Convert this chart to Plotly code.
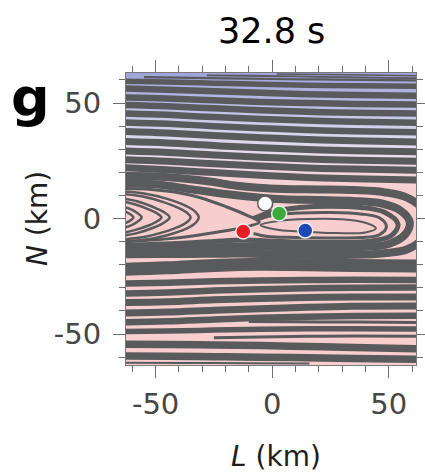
import plotly.graph_objects as go

# ---------------- text ----------------
title_text = "32.8 s"
panel_label = "g"
x_title = "<i>L</i> (km)"
y_title = "<i>N</i> (km)"
x_ticks = [-50, 0, 50]
x_tick_text = ["-50", "0", "50"]
y_ticks = [-50, 0, 50]
y_tick_text = ["-50", "0", "50"]

# ---------------- background field (by N, km) ----------------
bg_N = [-64, 10, 18, 28, 38, 50, 64]
bg_colors = ["rgb(248,206,206)", "rgb(248,205,205)", "rgb(246,212,218)",
             "rgb(232,222,236)", "rgb(214,212,238)", "rgb(186,188,230)",
             "rgb(158,162,216)"]

# ---------------- open streamline bands: N (km) at L stations ----------------
L_st = [-66, -45, -25, -5, 15, 35, 66]
upper_bands_N = [
    [59.5, 59.1, 58.6, 58.1, 57.7, 57.5, 57.2],
    [56.4, 55.8, 55.1, 54.4, 53.8, 53.5, 53.1],
    [52.5, 52.0, 51.2, 50.5, 50.0, 49.6, 49.3],
    [49.2, 48.6, 47.7, 46.9, 46.2, 45.8, 45.4],
    [45.6, 44.9, 43.9, 43.1, 42.4, 41.9, 41.4],
    [41.7, 41.0, 40.0, 39.1, 38.3, 37.8, 37.3],
    [37.8, 37.0, 35.9, 35.0, 34.2, 33.7, 33.1],
    [33.4, 32.7, 31.6, 30.6, 29.9, 29.3, 28.8],
    [29.3, 28.6, 27.5, 26.5, 25.8, 25.2, 24.7],
    [25.6, 24.8, 23.7, 22.7, 21.9, 21.4, 20.8],
    [22.1, 21.1, 19.9, 18.7, 17.8, 17.2, 16.6],
]
lower_bands_N = [
    [-22.0, -21.3, -20.3, -19.8, -20.0, -20.3, -20.6],
    [-28.2, -27.8, -27.2, -26.8, -26.6, -26.5, -26.6],
    [-32.5, -32.0, -31.2, -30.6, -30.2, -30.0, -29.8],
    [-36.4, -36.0, -35.2, -34.6, -34.2, -34.0, -33.9],
    [-40.9, -40.5, -39.7, -39.0, -38.4, -38.0, -37.8],
    [-44.9, -44.5, -43.7, -43.0, -42.5, -42.2, -42.0],
    [-48.9, -48.7, -48.3, -47.9, -47.7, -47.7, -47.8],
    [-54.4, -54.5, -54.7, -55.0, -55.4, -55.8, -56.5],
    [-59.5, -59.6, -59.8, -60.0, -60.3, -60.6, -61.0],
]

# partial lines (start or end inside the frame), (L, N)
edge_lines_L = [[-55, -40, -20, 0, 20, 40, 66],
                [-28, -10, 10, 30, 50, 66],
                [2, 20, 40, 66],
                [-66, -40, -10, 16],
                [-25, -5, 15, 35, 66],
                [-10, 10, 30, 50, 66]]
edge_lines_N = [[61.2, 61.0, 60.7, 60.4, 60.2, 60.0, 59.8],
                [62.0, 61.8, 61.5, 61.2, 60.9, 60.7],
                [62.6, 62.4, 62.1, 61.8],
                [-62.4, -62.5, -62.6, -62.7],
                [-51.6, -51.3, -51.0, -50.9, -51.0],
                [-44.6, -44.7, -44.8, -44.9, -45.0]]

# eye loops (turn back at the right)
loops_L = [
    [-66, -50, -38, -26, -16, -6, 5, 20, 35, 48, 58, 65, 66, 65, 58, 48, 35, 20, 5, -8, -20, -35, -50, -66],
    [-66, -50, -35, -20, -5, 5, 20, 35, 47, 55, 59, 57, 50, 38, 20, 5, -8, -20, -35, -50, -66],
    [-8, 0, 12, 25, 38, 48, 54, 51, 42, 25, 10, -2, -12, -25, -40, -55, -66],
    [-7, 0, 12, 25, 38, 46, 49, 46, 38, 25, 10, -2, -8],
    [-5, 3, 15, 30, 40, 44.5, 40, 28, 15, 3, -5],
]
loops_N = [
    [18.6, 18.2, 17.3, 15.9, 14.3, 13.3, 12.8, 12.6, 12.3, 11.4, 9.0, 3.5, -2.0, -8.0, -13.3, -15.0, -15.7, -15.8, -15.6, -15.2, -15.2, -15.3, -15.4, -15.5],
    [15.3, 14.8, 12.7, 10.6, 9.0, 8.3, 8.0, 7.6, 6.5, 3.5, -1.5, -7.0, -11.0, -12.4, -12.6, -12.4, -12.0, -12.3, -12.8, -13.1, -13.3],
    [0.0, 3.0, 4.8, 5.3, 4.8, 2.8, -2.5, -7.5, -9.8, -10.4, -10.2, -9.7, -9.3, -9.9, -10.8, -11.3, -11.5],
    [-0.8, 1.3, 2.4, 2.6, 2.0, 0.3, -3.5, -7.0, -8.2, -8.4, -8.2, -7.8, -6.5],
    [-2.8, -1.0, -0.2, -0.3, -1.8, -4.2, -6.0, -6.3, -5.7, -5.0, -2.8],
]

# hairpins turning back at the left (incl. the saddle line)
pins_L = [
    [-66, -52, -40, -30, -20, -11, -5.5, -10, -20, -32, -45, -66],
    [-66, -55, -45, -37, -33, -31.5, -33, -37, -45, -55, -66],
    [-66, -55, -47, -40, -36.5, -35, -36.5, -40, -47, -55, -66],
    [-66, -58, -51, -46.5, -44, -46.5, -51, -58, -66],
    [-66, -59, -53, -49.5, -47.5, -49.5, -53, -59, -66],
    [-66, -61, -58, -56, -58, -61, -66],
    [-66, -62.5, -60.5, -59.5, -60.5, -62.5, -66],
]
pins_N = [
    [13.0, 12.6, 11.2, 8.8, 5.2, 1.5, -1.5, -3.3, -5.3, -7.2, -8.8, -10.3],
    [12.0, 10.8, 8.5, 5.5, 3.0, 0.5, -2.0, -4.5, -7.2, -9.2, -10.0],
    [10.8, 9.4, 7.2, 4.5, 2.5, 0.5, -1.5, -3.5, -6.0, -8.0, -9.2],
    [9.0, 7.5, 5.0, 2.8, 0.5, -1.8, -4.0, -6.3, -7.8],
    [7.8, 6.2, 4.0, 2.3, 0.5, -1.3, -3.0, -5.0, -6.6],
    [5.5, 4.2, 2.5, 0.5, -1.5, -3.2, -4.5],
    [4.0, 2.8, 1.6, 0.5, -0.6, -1.8, -3.0],
]

# particles
dot_L = [-3, 3, -12.4, 14.2]
dot_N = [6.5, 2.2, -5.6, -5.2]
dot_colors = ["rgb(255,255,255)", "rgb(58,172,62)", "rgb(232,28,36)", "rgb(30,72,178)"]
dot_edge = ["rgb(90,90,90)", "rgb(240,240,240)", "rgb(240,240,240)", "rgb(240,240,240)"]

# ---------------- styles ----------------
BAND = "rgb(88,90,92)"
upper_w = [5.5, 6.5, 6.5, 6.5, 6.5, 6.5, 7.0, 7.0, 7.0, 7.0, 7.0]
lower_w = [13, 6.5, 6.5, 7, 7, 6.5, 5.5, 7.5, 7.5]
edge_w = [2.2, 1.8, 1.5, 2.0, 3.0, 3.0]
loop_w = [8.0, 8.0, 5.0, 3.0, 2.0]
pin_w = [3.0, 2.5, 2.5, 2.5, 2.5, 2.5, 2.5]

fig = go.Figure()

lo, hi = bg_N[0], bg_N[-1]
cscale = [[(n - lo) / (hi - lo), c] for n, c in zip(bg_N, bg_colors)]
fig.add_trace(go.Heatmap(x=[-70, 70], y=bg_N, z=[[n, n] for n in bg_N],
                         colorscale=cscale, zsmooth="best", showscale=False,
                         hoverinfo="skip"))


def add_line(xs, ys, w):
    fig.add_trace(go.Scatter(x=xs, y=ys, mode="lines",
                             line=dict(color=BAND, width=w, shape="spline", smoothing=1.0),
                             hoverinfo="skip", showlegend=False))


for ys, w in zip(upper_bands_N, upper_w):
    add_line(L_st, ys, w)
for ys, w in zip(lower_bands_N, lower_w):
    add_line(L_st, ys, w)
for xs, ys, w in zip(edge_lines_L, edge_lines_N, edge_w):
    add_line(xs, ys, w)
for xs, ys, w in zip(pins_L, pins_N, pin_w):
    add_line(xs, ys, w)
for xs, ys, w in zip(loops_L, loops_N, loop_w):
    add_line(xs, ys, w)

fig.add_trace(go.Scatter(x=dot_L, y=dot_N, mode="markers",
                         marker=dict(size=15, color=dot_colors,
                                     line=dict(color=dot_edge, width=1.5)),
                         hoverinfo="skip", showlegend=False))

FONT = "DejaVu Sans"
axis_common = dict(
    showline=True, linecolor="rgb(120,120,120)", linewidth=1, mirror="ticks",
    ticks="outside", ticklen=12, tickwidth=1.3, tickcolor="rgb(110,110,110)",
    showgrid=False, zeroline=False, automargin=False,
    tickfont=dict(family=FONT, size=29, color="rgb(70,70,70)"),
    minor=dict(ticks="outside", dtick=10, tick0=0, ticklen=6, tickwidth=1.2,
               tickcolor="rgb(110,110,110)", showgrid=False),
)

fig.update_layout(
    width=425, height=476, autosize=False,
    margin=dict(l=126, r=9, t=73, b=111, pad=0),
    paper_bgcolor="white", plot_bgcolor="white",
    showlegend=False,
    xaxis=dict(range=[-62.7, 61.7], tickmode="array", tickvals=x_ticks,
               ticktext=x_tick_text, ticklabelstandoff=1, **axis_common),
    yaxis=dict(range=[-63.4, 63.0], tickmode="array", tickvals=y_ticks,
               ticktext=y_tick_text, ticklabelstandoff=6, **axis_common),
    annotations=[
        dict(text=title_text, xref="paper", yref="paper", x=0.503, y=1.144,
             showarrow=False, xanchor="center", yanchor="middle",
             font=dict(family=FONT, size=35, color="black")),
        dict(text="<b>" + panel_label + "</b>", xref="paper", yref="paper",
             x=-0.328, y=0.915, showarrow=False, xanchor="center", yanchor="middle",
             font=dict(family=FONT, size=54, color="black")),
        dict(text=x_title, xref="paper", yref="paper", x=0.517, y=-0.378,
             showarrow=False, xanchor="center", yanchor="bottom",
             font=dict(family=FONT, size=28, color="rgb(30,30,30)")),
        dict(text=y_title, xref="paper", yref="paper", x=-0.307, y=0.503,
             showarrow=False, xanchor="center", yanchor="middle", textangle=-90,
             font=dict(family=FONT, size=28, color="rgb(30,30,30)")),
    ],
)

fig.write_html(
    "out.html",
    include_plotlyjs=True,
    config={"responsive": False, "displayModeBar": False},
    post_script="document.body.style.margin='0px';document.body.style.overflow='hidden';",
)
